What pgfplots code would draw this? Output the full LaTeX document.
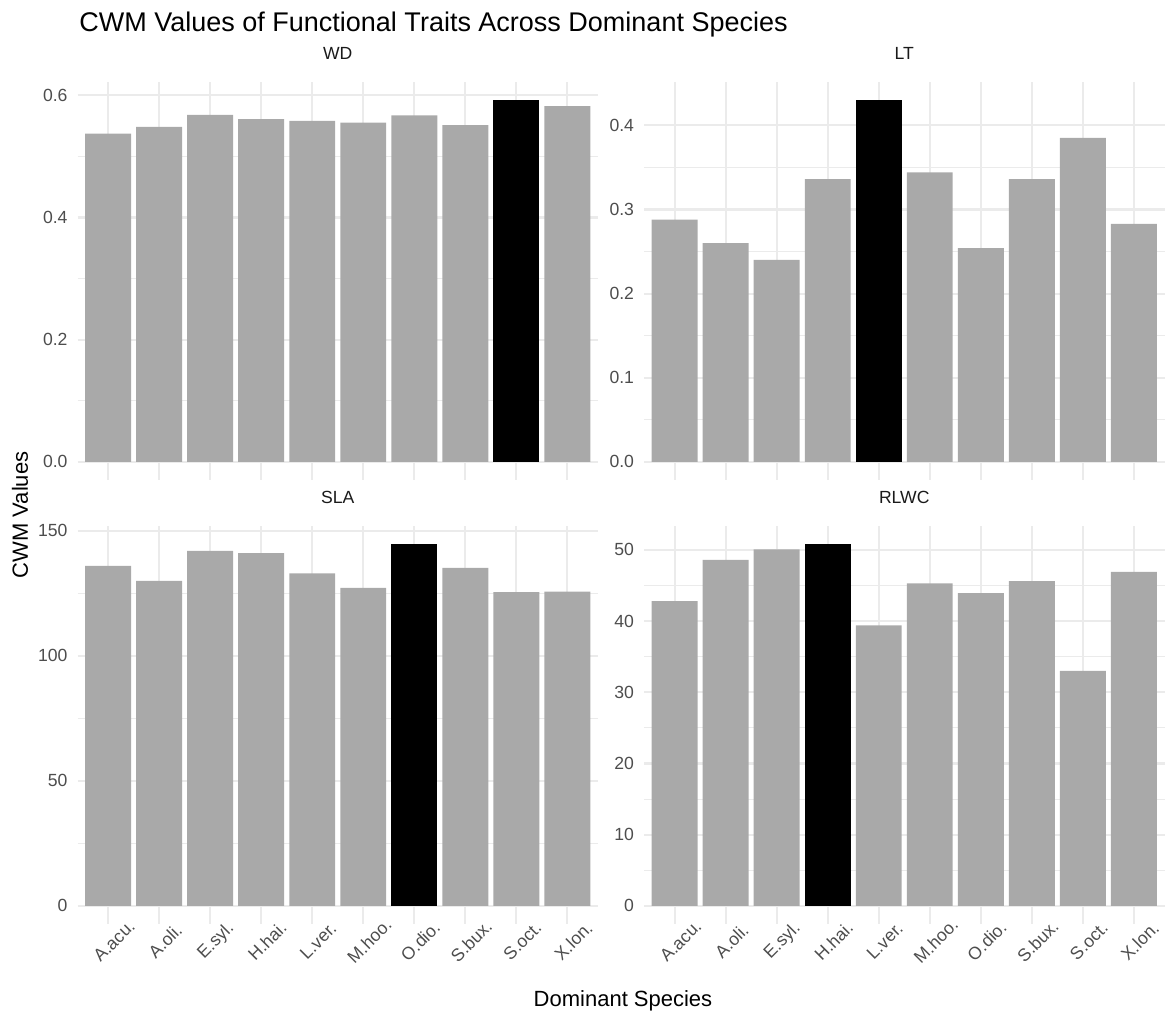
\documentclass[border=0pt]{standalone}
\usepackage{fontspec}
\setmainfont{Liberation Sans}
\usepackage{pgfplots}
\pgfplotsset{compat=1.18}
\definecolor{bargray}{HTML}{A9A9A9}
\definecolor{gridmaj}{HTML}{EBEBEB}
\definecolor{ticktxt}{HTML}{4D4D4D}
\definecolor{striptxt}{HTML}{1A1A1A}
\pgfplotsset{
 panel/.style={
  width=260.25pt, height=199pt, scale only axis,
  xmin=0.4, xmax=10.6,
  xtick={1,2,3,4,5,6,7,8,9,10},
  ymajorgrids, xmajorgrids, yminorgrids,
  major grid style={line width=1.07pt, color=gridmaj},
  minor grid style={line width=0.53pt, color=gridmaj},
  axis line style={draw=none},
  major tick length=0pt, minor tick length=0pt,
  tick style={draw=none},
  ticklabel style={font=\fontsize{8.8}{10}\selectfont, text=ticktxt},
  yticklabel style={anchor=east, inner sep=0pt, xshift=-4.8pt},
  title style={at={(0.5,1)}, anchor=base, yshift=5.15pt, font=\fontsize{8.8}{10}\selectfont, text=striptxt, inner sep=0pt},
  ybar, bar width=0.9, bar shift=0pt,
 },
 nox/.style={xticklabels={}},
 withx/.style={xticklabels={A.acu.,A.oli.,E.syl.,H.hai.,L.ver.,M.hoo.,O.dio.,S.bux.,S.oct.,X.lon.},
   xticklabel style={xshift=3pt, rotate=45, anchor=center, inner sep=0pt}, xticklabel shift=8.5pt},
}
\begin{document}
\begin{tikzpicture}
\path[use as bounding box] (0,0) rectangle (585pt,509pt);
% WD
\begin{axis}[panel, nox, at={(38.75pt,269pt)}, anchor=south west,
  title={WD}, ymin=-0.0296, ymax=0.6216,
  ytick={0,0.2,0.4,0.6}, yticklabels={0.0,0.2,0.4,0.6},
  minor ytick={0.1,0.3,0.5}]
\addplot[fill=bargray, draw=none, bar shift=0pt] coordinates {(1,0.537) (2,0.548) (3,0.568) (4,0.561) (5,0.558) (6,0.555) (7,0.567) (8,0.551) (10,0.582)};
\addplot[fill=black, draw=none, bar shift=0pt] coordinates {(9,0.592)};
\end{axis}
% LT
\begin{axis}[panel, nox, at={(322pt,269pt)}, anchor=south west,
  title={LT}, ymin=-0.0215, ymax=0.4515,
  ytick={0,0.1,0.2,0.3,0.4}, yticklabels={0.0,0.1,0.2,0.3,0.4},
  minor ytick={0.05,0.15,0.25,0.35}]
\addplot[fill=bargray, draw=none, bar shift=0pt] coordinates {(1,0.288) (2,0.260) (3,0.240) (4,0.336) (6,0.344) (7,0.254) (8,0.336) (9,0.385) (10,0.283)};
\addplot[fill=black, draw=none, bar shift=0pt] coordinates {(5,0.430)};
\end{axis}
% SLA
\begin{axis}[panel, withx, at={(38.75pt,47pt)}, anchor=south west,
  title={SLA}, ymin=-7.235, ymax=151.935,
  ytick={0,50,100,150}, yticklabels={0,50,100,150},
  minor ytick={25,75,125}]
\addplot[fill=bargray, draw=none, bar shift=0pt] coordinates {(1,136.0) (2,130.0) (3,142.0) (4,141.1) (5,133.0) (6,127.2) (8,135.2) (9,125.5) (10,125.7)};
\addplot[fill=black, draw=none, bar shift=0pt] coordinates {(7,144.7)};
\end{axis}
% RLWC
\begin{axis}[panel, withx, at={(322pt,47pt)}, anchor=south west,
  title={RLWC}, ymin=-2.54, ymax=53.34,
  ytick={0,10,20,30,40,50}, yticklabels={0,10,20,30,40,50},
  minor ytick={5,15,25,35,45}]
\addplot[fill=bargray, draw=none, bar shift=0pt] coordinates {(1,42.8) (2,48.6) (3,50.05) (5,39.4) (6,45.3) (7,43.9) (8,45.6) (9,33.0) (10,46.9)};
\addplot[fill=black, draw=none, bar shift=0pt] coordinates {(4,50.8)};
\end{axis}
\node[anchor=base west, inner sep=0pt, font=\fontsize{13.5}{15}\selectfont] at (39.5pt,493.2pt) {CWM Values of Functional Traits Across Dominant Species};
\node[rotate=90, anchor=base, inner sep=0pt, font=\fontsize{11}{13}\selectfont] at (14pt,251.5pt) {CWM Values};
\node[anchor=base, inner sep=0pt, font=\fontsize{11}{13}\selectfont] at (311.5pt,5.65pt) {Dominant Species};
\end{tikzpicture}
\end{document}
